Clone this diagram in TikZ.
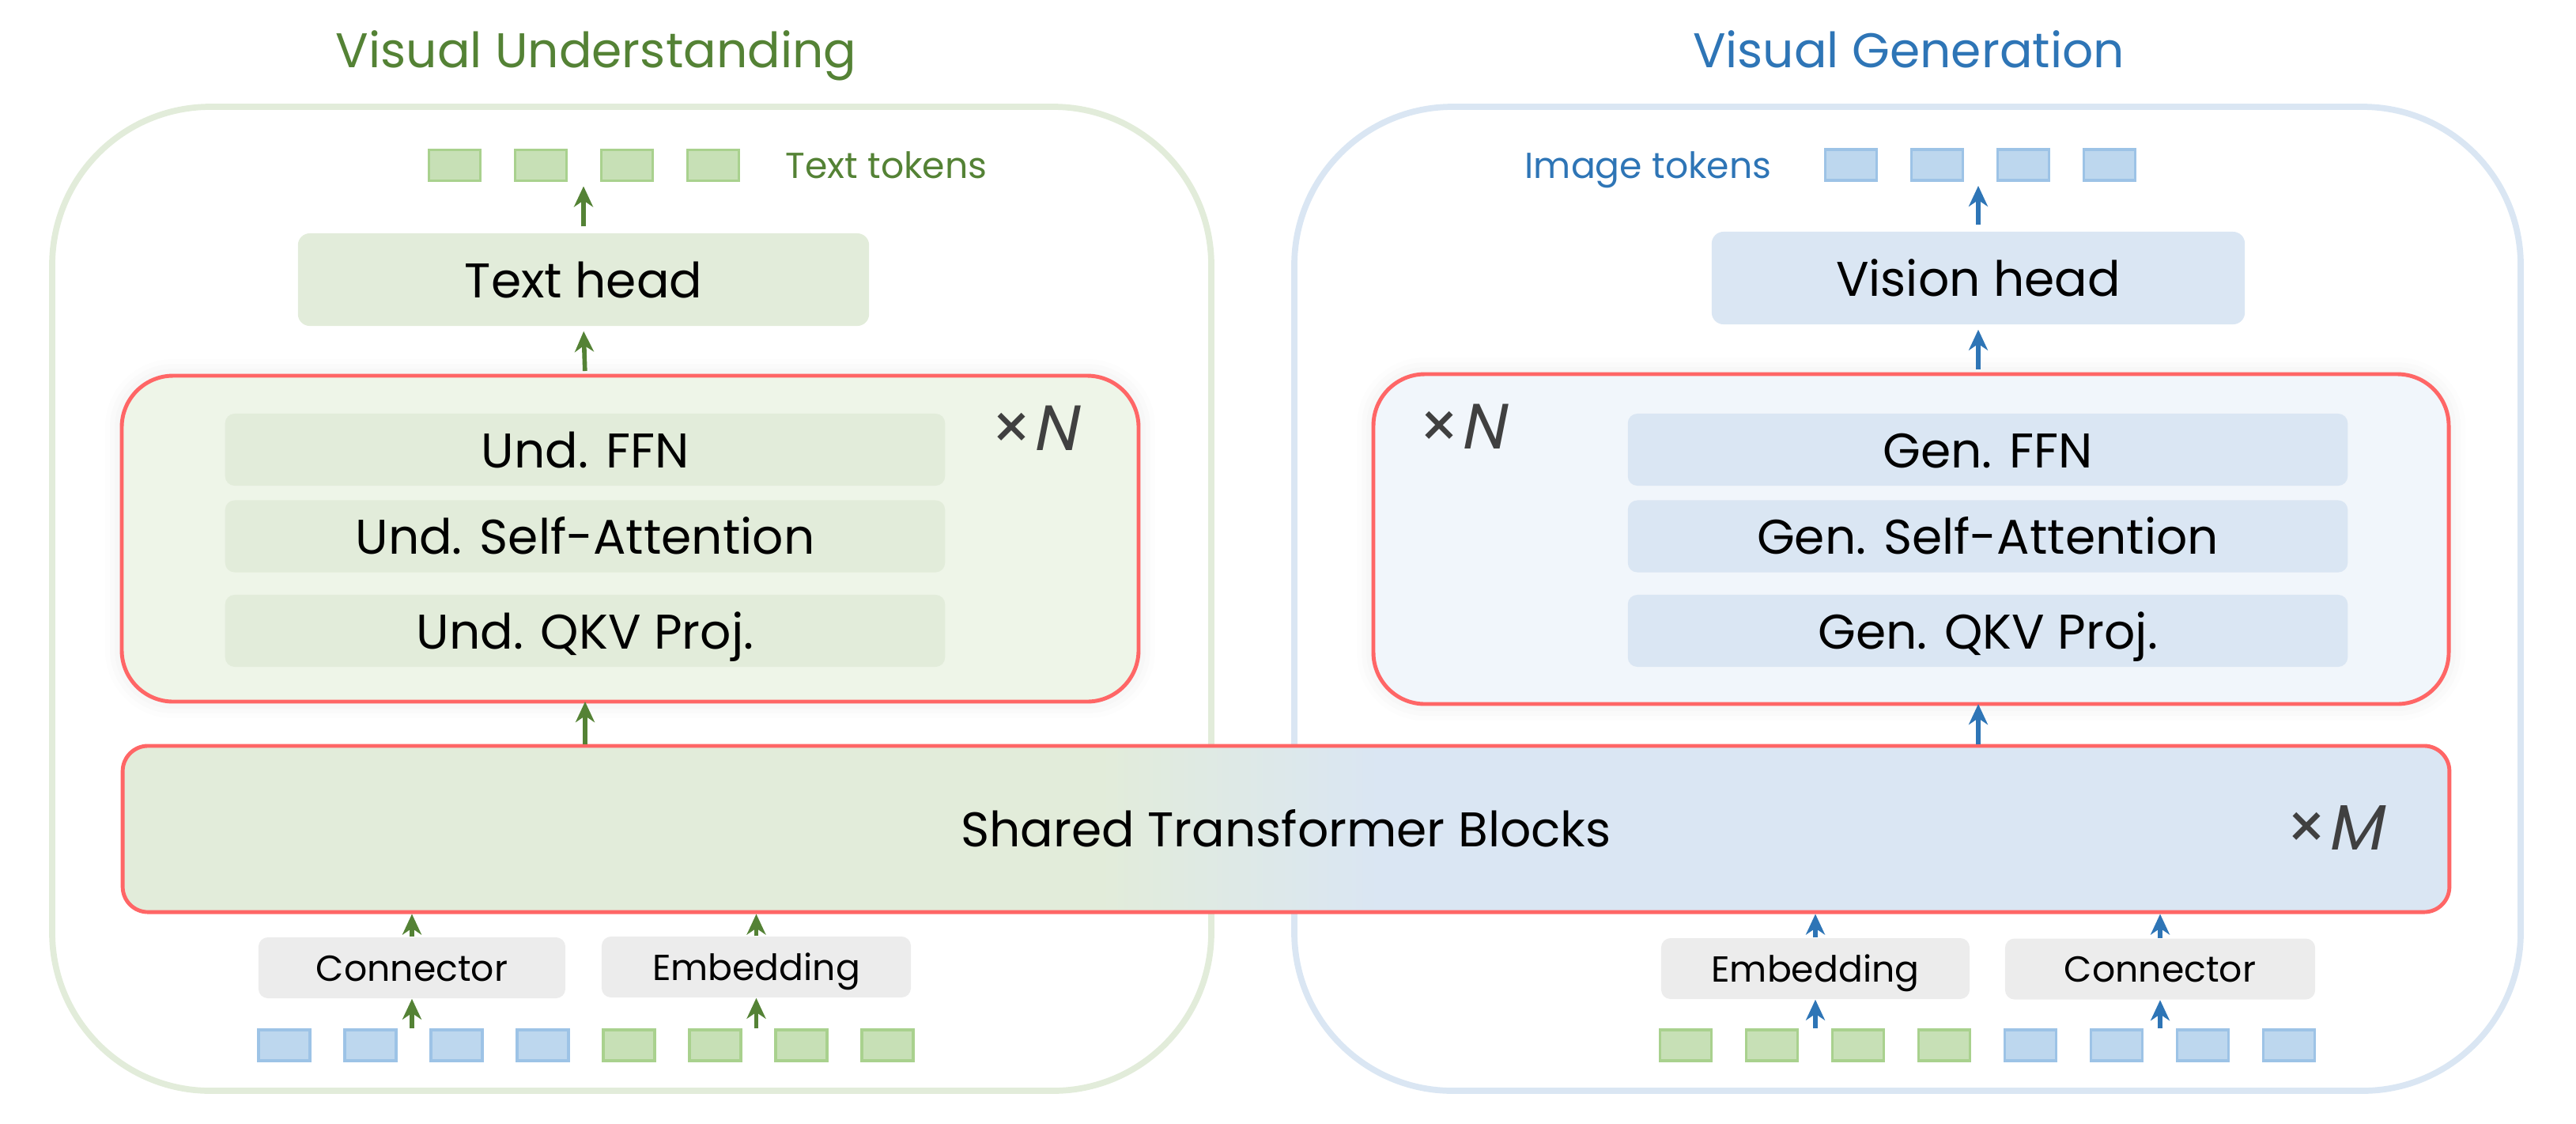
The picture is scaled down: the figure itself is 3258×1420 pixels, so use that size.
\documentclass[tikz,border=0pt]{standalone}
\usepackage{fontspec}
\setmainfont{Poppins}[AutoFakeSlant=0.2]
\setsansfont{Poppins}[AutoFakeSlant=0.2]
\definecolor{undgreen}{RGB}{84,130,53}
\definecolor{genblue}{RGB}{46,117,182}
\definecolor{undlight}{RGB}{226,236,218}
\definecolor{genlight}{RGB}{218,230,243}
\definecolor{undpale}{RGB}{238,245,232}
\definecolor{genpale}{RGB}{241,246,251}
\definecolor{blockred}{RGB}{255,102,102}
\definecolor{modgray}{RGB}{236,236,236}
\definecolor{tokgreen}{RGB}{199,224,182}
\definecolor{tokgreenline}{RGB}{169,209,142}
\definecolor{tokblue}{RGB}{189,215,238}
\definecolor{tokblueline}{RGB}{157,195,230}
\definecolor{multgray}{RGB}{64,64,64}
\usetikzlibrary{arrows.meta}
\usetikzlibrary{shadows.blur}
\usetikzlibrary{positioning}
\pgfdeclarehorizontalshading{sharedshade}{100bp}{color(0bp)=(undlight); color(46bp)=(undlight); color(52bp)=(genlight); color(100bp)=(genlight)}
\tikzset{
  outerbox/.style={line width=2.2pt, rounded corners=2cm},
  blockbox/.style={draw=blockred, line width=1.4pt, rounded corners=0.65cm,
    blur shadow={shadow xshift=0pt, shadow yshift=0pt, shadow blur radius=6pt, shadow opacity=10}},
  headbox/.style={rounded corners=0.15cm, minimum height=1.17cm, text height=0.45cm, text depth=0cm},
  layerbox/.style={rounded corners=0.12cm, minimum width=9.1cm, minimum height=0.91cm, text height=0.45cm, text depth=0cm},
  modbox/.style={fill=modgray, rounded corners=0.12cm, minimum height=0.77cm,
    font=\fontsize{13}{16}\selectfont, text height=0.33cm, text depth=0cm},
  token/.style={minimum width=0.65cm, minimum height=0.39cm, line width=1.1pt, inner sep=0pt},
  toklabel/.style={inner sep=0pt, font=\fontsize{13}{16}\selectfont, text height=0.33cm, text depth=0cm},
  mult/.style={text=multgray, font=\fontsize{23}{27}\selectfont, anchor=base west, inner sep=0pt},
  undarrow/.style={draw=undgreen, line width=1.6pt, -{Stealth[length=0.26cm, width=0.24cm, inset=0.08cm]}},
  genarrow/.style={draw=genblue, line width=1.6pt, -{Stealth[length=0.26cm, width=0.24cm, inset=0.08cm]}},
}

\begin{document}
\begin{tikzpicture}[x=0.01cm, y=-0.01cm, font=\fontsize{17.5}{21}\selectfont]
  \useasboundingbox (0,0) rectangle (3258,1420);

  % the two sides
  \draw [outerbox, draw=undlight] (66,135) rectangle (1532,1379);
  \draw [outerbox, draw=genlight] (1637,135) rectangle (3188,1379);
  \node [text=undgreen, anchor=base] (undtitle) at (754,85) {Visual Understanding};
  \node [text=genblue, anchor=base] (gentitle) at (2414,85) {Visual Generation};

  % shared part
  \node [draw=blockred, line width=1.4pt, rounded corners=0.32cm, shading=sharedshade,
    minimum width=29.41cm, minimum height=2.1cm, text height=0.45cm, text depth=0cm] (shared) at (1626.5,1048) {Shared Transformer Blocks};
  \node [mult] (sharedrep) at (2891,1074) {×\textit{M}};

  % understanding branch
  \draw [blockbox, fill=undpale] (154,475) rectangle (1440,887);
  \coordinate (undblk) at (797,887);
  \begin{scope}[every node/.style={layerbox, fill=undlight}]
    \node (undffn) at (740,568.5) {Und. FFN};
    \node (undatt) at (740,678) {Und. Self-Attention};
    \node (undqkv) at (740,797.5) {Und. QKV Proj.};
  \end{scope}
  \node [mult] (undrep) at (1253,569) {×\textit{N}};
  \node [headbox, fill=undlight, minimum width=7.22cm] (thead) at (738,353.5) {Text head};
  \node [modbox, minimum width=3.88cm] (conL) at (521,1223.5) {Connector};
  \node [modbox, minimum width=3.91cm] (embL) at (956.5,1222.5) {Embedding};

  % generation branch
  \draw [blockbox, fill=genpale] (1737,473) rectangle (3097,890);
  \coordinate (genblk) at (2417,890);
  \begin{scope}[every node/.style={layerbox, fill=genlight}]
    \node (genffn) at (2514,568.5) {Gen. FFN};
    \node (genatt) at (2514,678) {Gen. Self-Attention};
    \node (genqkv) at (2514,797.5) {Gen. QKV Proj.};
  \end{scope}
  \node [mult] (genrep) at (1794,567) {×\textit{N}};
  \node [headbox, fill=genlight, minimum width=6.74cm] (vhead) at (2502,351.5) {Vision head};
  \node [modbox, minimum width=3.9cm] (embR) at (2296,1224.5) {Embedding};
  \node [modbox, minimum width=3.92cm] (conR) at (2732,1225) {Connector};

  % tokens
  \begin{scope}[every node/.style={token, fill=tokgreen, draw=tokgreenline}]
    \foreach \i in {1,...,4} \node (ttok\i) at (466+109*\i,209) {};
    \foreach \i in {5,...,8} \node (inL\i) at (250.5+109*\i,1321.5) {};
    \foreach \i in {1,...,4} \node (inR\i) at (2023+109*\i,1321.5) {};
  \end{scope}
  \begin{scope}[every node/.style={token, fill=tokblue, draw=tokblueline}]
    \foreach \i in {1,...,4} \node (itok\i) at (2232+109*\i,208.5) {};
    \foreach \i in {1,...,4} \node (inL\i) at (250.5+109*\i,1321.5) {};
    \foreach \i in {5,...,8} \node (inR\i) at (2023+109*\i,1321.5) {};
  \end{scope}
  \node [toklabel, text=undgreen, anchor=west] (ttoklabel) at (993,209) {Text tokens};
  \node [toklabel, text=genblue, anchor=east] (itoklabel) at (2241,209) {Image tokens};

  % arrows
  \draw [undarrow] (conL.south |- inL1.north) -- (conL.south);
  \draw [undarrow] (embL.south |- inL1.north) -- (embL.south);
  \draw [undarrow] (conL.north) -- (conL.north |- shared.south);
  \draw [undarrow] (embL.north) -- (embL.north |- shared.south);
  \draw [undarrow] (shared.north -| undqkv) -- (undqkv.south |- undblk);
  \draw [undarrow, shorten <=0.06cm, shorten >=0.06cm] (undffn.north |- 0,475) -- (thead.south);
  \draw [undarrow, shorten <=0.08cm, shorten >=0.05cm] (thead.north) -- (thead.north |- ttok1.south);

  \draw [genarrow] (embR.south |- inR1.north) -- (embR.south);
  \draw [genarrow] (conR.south |- inR1.north) -- (conR.south);
  \draw [genarrow] (embR.north) -- (embR.north |- shared.south);
  \draw [genarrow] (conR.north) -- (conR.north |- shared.south);
  \draw [genarrow] (shared.north -| vhead) -- (vhead.south |- genblk);
  \draw [genarrow, shorten <=0.06cm, shorten >=0.06cm] (vhead.south |- 0,473) -- (vhead.south);
  \draw [genarrow, shorten <=0.08cm, shorten >=0.05cm] (vhead.north) -- (vhead.north |- itok1.south);

\end{tikzpicture}
\end{document}
